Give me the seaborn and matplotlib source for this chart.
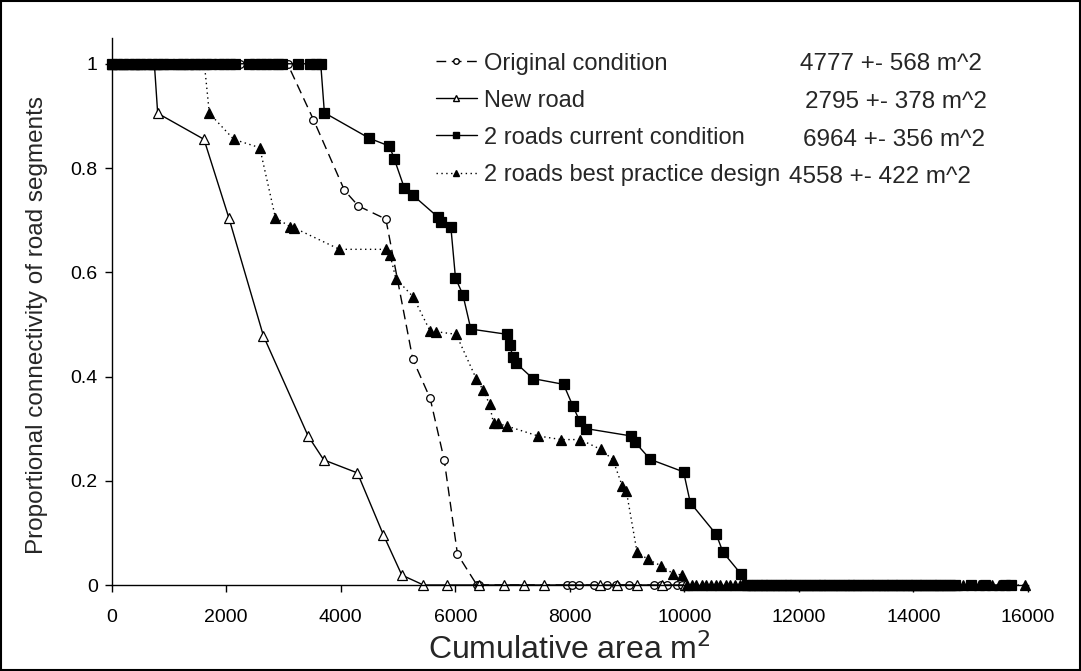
import matplotlib
matplotlib.use("Agg")
import matplotlib.pyplot as plt
from matplotlib.lines import Line2D
from matplotlib.patches import Rectangle
import seaborn as sns
import pandas as pd

# ---- data -------------------------------------------------------------
orig_x = [0, 180, 400, 650, 900, 1200, 1500, 1800, 2050, 2245, 2450, 2700, 2900, 3070,
          3522, 4065, 4309, 4787, 5258, 5561, 5806, 6038, 6377, 6417,
          7949, 8037, 8152, 8420, 8648, 8800, 9025, 9462, 9600, 9700, 9871, 9960]
orig_y = [1, 1, 1, 1, 1, 1, 1, 1, 1, 1, 1, 1, 1, 1,
          0.893, 0.757, 0.727, 0.702, 0.433, 0.358, 0.240, 0.059, 0, 0,
          0, 0, 0, 0, 0, 0, 0, 0, 0, 0, 0, 0]

new_x = [0, 200, 450, 745, 803, 1612, 2044, 2649, 3429, 3703, 4291, 4745, 5066,
         5444, 5863, 6422, 6854, 7208, 7540, 8531, 8823, 9172, 9609, 10016]
new_y = [1, 1, 1, 1, 0.905, 0.855, 0.705, 0.478, 0.286, 0.240, 0.215, 0.096, 0.019,
         0, 0, 0, 0, 0, 0, 0, 0, 0, 0, 0]

cur_x = [0, 100, 200, 300, 400, 500, 600, 700, 800, 900, 1000, 1150, 1250, 1350, 1450,
         1550, 1650, 1740, 1870, 1960, 2060, 2150, 2400, 2500, 2600, 2700, 2800, 2900,
         2970, 3250, 3460, 3560, 3650,
         3714, 4500, 4850, 4932, 5112, 5258, 5695, 5748, 5922, 6003, 6132, 6271, 6900,
         6958, 6999, 7058, 7355, 7890, 8054, 8170, 8286, 9067, 9130, 9404, 9986, 10103,
         10557, 10674, 10989,
         11100, 11180, 11260, 11350, 11430, 11520, 11600, 11690, 11770, 11850, 11940,
         12020, 12110, 12190, 12280, 12360, 12440, 12530, 12610, 12700, 12780, 12870,
         12950, 13030, 13120, 13200, 13290, 13370, 13460, 13540, 13620, 13710, 13790,
         13880, 13960, 14050, 14130, 14210, 14300, 14380, 14470, 14550, 14640, 14720,
         15000, 15250, 15600, 15700]
cur_y = [1] * 33 + [
         0.906, 0.857, 0.842, 0.818, 0.761, 0.748, 0.706, 0.697, 0.687, 0.589, 0.557,
         0.491, 0.481, 0.460, 0.438, 0.426, 0.396, 0.385, 0.343, 0.315, 0.300, 0.286,
         0.275, 0.241, 0.217, 0.158, 0.097, 0.063, 0.021] + [0] * 48

best_x = [0, 120, 260, 390, 520, 650, 780, 900, 1076, 1200, 1330, 1460, 1618,
          1705, 2131, 2585, 2858, 3120, 3190, 3977, 4787, 4862, 4961, 5263, 5561, 5666,
          6015, 6364, 6481, 6597, 6667, 6737, 6900, 7442, 7849, 8181, 8543, 8753, 8915,
          8985, 9172, 9364, 9591, 9801, 9963,
          10050, 10130, 10210, 10300, 10380, 10460, 10550, 10630, 10720, 10800, 10880,
          10970, 11050, 11140, 11220, 11310, 11390, 11470, 11560, 11640, 11730, 11810,
          11890, 11980, 12060, 12150, 12230, 12320, 12400, 12480, 12570, 12650, 12740,
          12820, 12900, 12990, 13070, 13160, 13240, 13330, 13410, 13490, 13580, 13660,
          13750, 13830, 13910, 14000, 14080, 14170, 14250, 14340, 14420, 14500, 14590,
          14670, 14760, 14870, 15150, 15380, 15500, 15943]
best_y = [1] * 13 + [
          0.905, 0.855, 0.839, 0.705, 0.687, 0.685, 0.644, 0.644, 0.633, 0.588, 0.553,
          0.487, 0.486, 0.481, 0.396, 0.375, 0.347, 0.310, 0.310, 0.305, 0.286, 0.279,
          0.279, 0.260, 0.240, 0.190, 0.181, 0.064, 0.049, 0.037, 0.022, 0.019] + [0] * 62

labels = ["Original condition", "New road", "2 roads current condition",
          "2 roads best practice design"]
area_stats = ["4777 +- 568 m^2", "2795 +- 378 m^2", "6964 +- 356 m^2", "4558 +- 422 m^2"]

x_ticks = [0, 2000, 4000, 6000, 8000, 10000, 12000, 14000, 16000]
y_ticks = [0, 0.2, 0.4, 0.6, 0.8, 1.0]
y_tick_labels = ["0", "0.2", "0.4", "0.6", "0.8", "1"]

# ---- styling ----------------------------------------------------------
sns.set_style("ticks")
plt.rcParams["font.family"] = ["Liberation Sans", "DejaVu Sans"]

W, H = 1081, 671
fig = plt.figure(figsize=(W / 100, H / 100), dpi=100)
ax = fig.add_axes([111.7 / W, 1 - 585 / H, (1028 - 111.7) / W, (585 - 37.7) / H])

styles = [
    dict(marker="o", linestyle=(0, (7, 4)), mfc="white", ms=5.5),
    dict(marker="^", linestyle="-", mfc="white", ms=6.5),
    dict(marker="s", linestyle="-", mfc="black", ms=6.5),
    dict(marker="^", linestyle=(0, (1, 2.5)), mfc="black", ms=6.5),
]
series = [(orig_x, orig_y), (new_x, new_y), (cur_x, cur_y), (best_x, best_y)]

for (xs, ys), st in zip(series, styles):
    df = pd.DataFrame({"area": xs, "conn": ys})
    sns.lineplot(data=df, x="area", y="conn", ax=ax, estimator=None, sort=False,
                 color="black", linewidth=1.0, marker=st["marker"],
                 linestyle=st["linestyle"], markerfacecolor=st["mfc"],
                 markeredgecolor="black", markeredgewidth=0.9, markersize=st["ms"],
                 clip_on=False)

ax.set_xlim(0, 16000)
ax.set_ylim(0, 1.05)
ax.set_xticks(x_ticks)
ax.set_xticklabels([str(t) for t in x_ticks])
ax.set_yticks(y_ticks)
ax.set_yticklabels(y_tick_labels)
ax.tick_params(axis="both", labelsize=14, length=5, width=1, color="black",
               labelcolor="black")
ax.tick_params(axis="x", pad=12)
ax.tick_params(axis="y", pad=5)
sns.despine(ax=ax)
for s in ("left", "bottom"):
    ax.spines[s].set_color("black")
    ax.spines[s].set_linewidth(1)

ax.set_xlabel("Cumulative area m$^2$", fontsize=23)
ax.set_ylabel("Proportional connectivity of road segments", fontsize=17.5)
ax.xaxis.set_label_coords(0.5, -0.088)
ax.yaxis.set_label_coords(-0.07, 0.475)

# legend with small markers
handles = [Line2D([], [], color="black", lw=1.0, linestyle=st["linestyle"],
                  marker=st["marker"], markerfacecolor=st["mfc"],
                  markeredgecolor="black", markersize=4)
           for st in styles]
fig.legend(handles, labels, loc="upper left",
           bbox_to_anchor=(419 / W, 1 - 36 / H), frameon=False,
           fontsize=17, handlelength=1.75, handletextpad=0.3,
           labelspacing=0.64, borderpad=0.2)

# area summaries beside each legend row
stat_left = [800, 805, 803, 789]
stat_y = [64, 102, 140, 177]
for txt, px, py in zip(area_stats, stat_left, stat_y):
    fig.text(px / W, 1 - py / H, txt, fontsize=17.5, ha="left", va="center")

# outer frame
fig.patches.append(Rectangle((0.001, 0.001), 0.998, 0.997, transform=fig.transFigure,
                             fill=False, edgecolor="black", linewidth=1.5))

fig.savefig("out.png", dpi=100)
